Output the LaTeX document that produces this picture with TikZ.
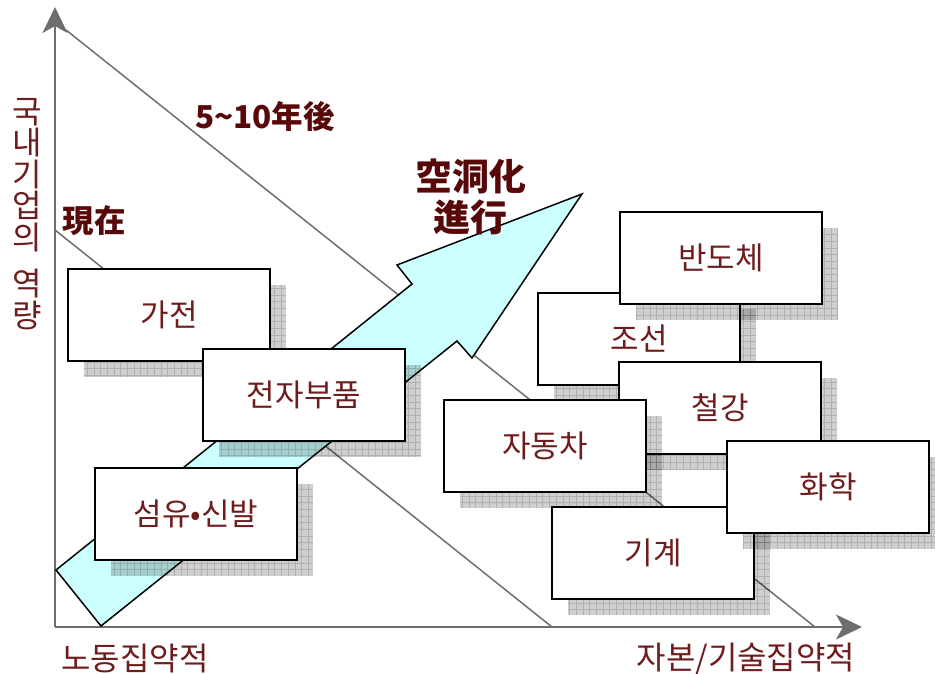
\documentclass[tikz,border=0pt]{standalone}
\usepackage{fontspec}
\setmainfont{Noto Sans CJK KR}
\usetikzlibrary{arrows.meta}
\definecolor{boxtxt}{RGB}{110,28,28}
\definecolor{lbltxt}{RGB}{88,8,8}
\definecolor{axisgray}{RGB}{110,110,110}
\definecolor{arrowcyan}{RGB}{204,255,255}
\tikzset{
 boxnode/.style={draw=black, line width=1.5pt, fill=white, minimum width=202pt, minimum height=92pt, inner sep=0pt, text=boxtxt, font=\fontsize{31}{33}\selectfont},
 shadowfill/.style={fill=black, fill opacity=0.19},
 shadowgrid/.style={draw=black, draw opacity=0.15, line width=0.6pt, step=6.7pt},
 axisline/.style={draw=axisgray, line width=2pt, -{Stealth[length=26pt,width=25pt,inset=7pt,fill=axisgray]}},
 diagline/.style={draw=axisgray, line width=1.5pt},
 lbl/.style={text=lbltxt, font=\bfseries\fontsize{31.5}{33}\selectfont, inner sep=0pt},
 biglbl/.style={text=lbltxt, font=\bfseries\fontsize{37}{40}\selectfont, inner sep=0pt},
 axlbl/.style={text=boxtxt, font=\fontsize{32}{31.5}\selectfont, inner sep=0pt},
}
\newcommand{\mybox}[4]{%
 \fill[shadowfill] (#2+16,#3+16) rectangle (#2+218,#3+108);
 \begin{scope}
  \clip (#2+16,#3+16) rectangle (#2+218,#3+108);
  \draw[shadowgrid] (#2+16,#3+16) grid (#2+218,#3+108);
 \end{scope}
 \node[boxnode] (#1) at (#2+101,#3+46) {#4};
}
\begin{document}
\begin{tikzpicture}[x=1pt,y=-1pt]
\useasboundingbox (0,0) rectangle (935,674);
% axes
\coordinate (O) at (55,627);
\coordinate (ytop) at (55,7);
\coordinate (xend) at (862,627);
\draw[axisline] (O) -- (ytop);
\draw[axisline] (O) -- (xend);
% diagonal lines
\coordinate (d1s) at (66,30);
\coordinate (d1e) at (815,627);
\coordinate (d2s) at (55,230);
\coordinate (d2e) at (552,627);
\draw[diagline] (d1s) -- (d1e);
\draw[diagline] (d2s) -- (d2e);
% big arrow
\coordinate (a1) at (56,570);
\coordinate (a2) at (412,284);
\coordinate (a3) at (397,265);
\coordinate (a4) at (582,194);
\coordinate (a5) at (472,358);
\coordinate (a6) at (457,341);
\coordinate (a7) at (101,626);
\draw[fill=arrowcyan, draw=black, line width=1.5pt, line join=miter]
 (a1) -- (a2) -- (a3) -- (a4) -- (a5) -- (a6) -- (a7) -- cycle;
% boxes left
\mybox{gajeon}{68}{269}{가전}
\mybox{jeonja}{203}{349}{전자부품}
\mybox{seomyu}{95}{468}{섬유•신발}
% boxes right
\mybox{joseon}{538}{293}{조선}
\mybox{bandoche}{620}{212}{반도체}
\mybox{cheolgang}{619}{362}{철강}
\mybox{jadongcha}{444}{400}{자동차}
\mybox{gigye}{552}{507}{기계}
\mybox{hwahak}{727}{441}{화학}
% labels
\node[lbl] (later) at (265,117) {5\char"007E 10年後};
\node[lbl] (now) at (94,221) {現在};
\node[biglbl] (hollow1) at (471,176) {空洞化};
\node[biglbl] (hollow2) at (470,217) {進行};
\node[axlbl, align=center] (ylab) at (27,214) {국\\내\\기\\업\\의\\[15pt]역\\량};
\node[axlbl] (xlab1) at (135,659) {노동집약적};
\node[axlbl] (xlab2) at (746,659) {자본/기술집약적};
\end{tikzpicture}
\end{document}
